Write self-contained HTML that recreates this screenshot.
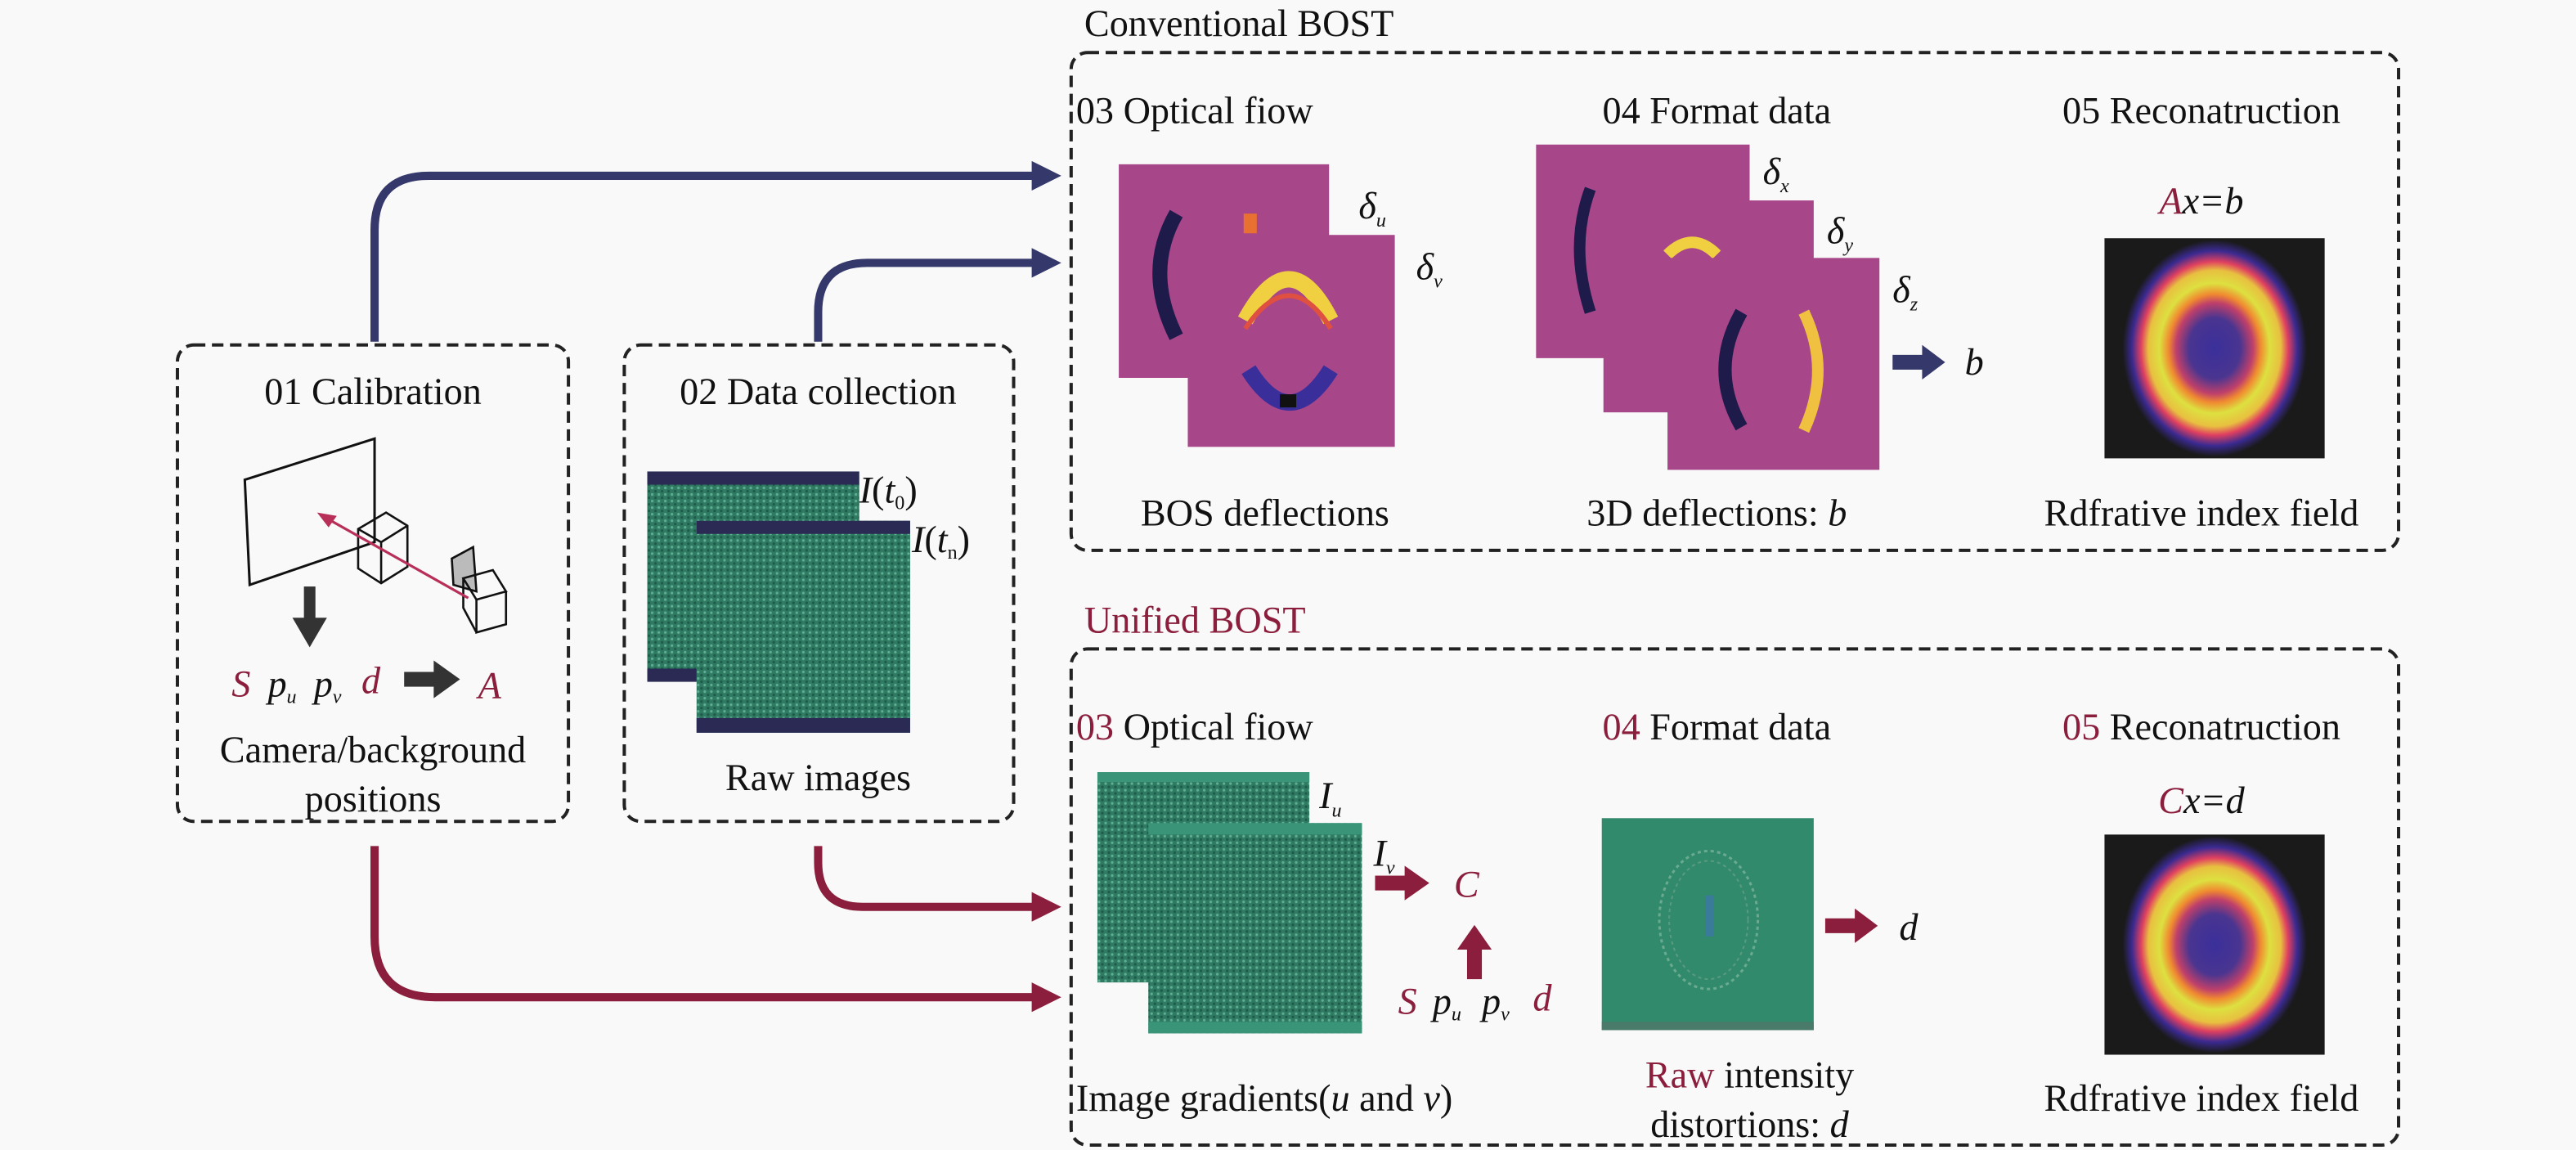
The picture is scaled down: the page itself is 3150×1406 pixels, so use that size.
<!DOCTYPE html>
<html><head><meta charset="utf-8"><style>
html,body{margin:0;padding:0;background:#f9f9f9}
svg{display:block}
svg text{font-family:"Liberation Serif","DejaVu Serif",serif;fill:#111}
.h{font-size:23px}
.i{font-style:italic}
.r{fill:#8b1e3c}
</style></head><body>
<svg width="3150" height="1406" viewBox="0 0 1568 700" preserveAspectRatio="none" xmlns="http://www.w3.org/2000/svg" font-family="Liberation Serif, DejaVu Serif, serif">
<defs>
<pattern id="gp" width="4" height="4" patternUnits="userSpaceOnUse">
<rect width="4" height="4" fill="#2f7a62"/><circle cx="1" cy="1" r="0.8" fill="#5fae92"/><circle cx="3" cy="3" r="0.8" fill="#1f5a48"/>
</pattern>
<radialGradient id="rec" cx="50%" cy="50%" r="50%">
<stop offset="0" stop-color="#3a2f9a"/><stop offset="0.28" stop-color="#4a3590"/>
<stop offset="0.42" stop-color="#c0406a"/><stop offset="0.5" stop-color="#f08a30"/>
<stop offset="0.6" stop-color="#dde040"/><stop offset="0.72" stop-color="#e8c040"/>
<stop offset="0.8" stop-color="#e04060"/><stop offset="0.9" stop-color="#3a2a90"/>
<stop offset="1" stop-color="#1a1a1a"/>
</radialGradient>
</defs>
<rect width="1568" height="700" fill="#f9f9f9"/>

<g fill="none" stroke-width="5">
<path d="M228,208 V140 Q228,107 261,107 H630" stroke="#35386a"/>
<path d="M498,208 V190 Q498,160 528,160 H630" stroke="#35386a"/>
<path d="M228,515 V570 Q228,607 265,607 H630" stroke="#8b1e3c"/>
<path d="M498,515 V525 Q498,552 525,552 H630" stroke="#8b1e3c"/>
</g>
<polygon points="628,98 646,107 628,116" fill="#35386a"/>
<polygon points="628,151 646,160 628,169" fill="#35386a"/>
<polygon points="628,598 646,607 628,616" fill="#8b1e3c"/>
<polygon points="628,543 646,552 628,561" fill="#8b1e3c"/>

<g fill="none" stroke="#222" stroke-width="2" stroke-dasharray="7,4">
<rect x="108" y="210" width="238" height="290" rx="10"/>
<rect x="380" y="210" width="237" height="290" rx="10"/>
<rect x="652" y="32" width="808" height="303" rx="10"/>
<rect x="652" y="395" width="808" height="302" rx="10"/>
</g>

<text x="660" y="22" class="h">Conventional BOST</text>
<text x="660" y="385" class="h r">Unified BOST</text>

<text x="227" y="246" class="h" text-anchor="middle">01 Calibration</text>
<polygon points="149,292 228,267 228,330 152,356" fill="none" stroke="#111" stroke-width="1.5"/>
<g fill="none" stroke="#111" stroke-width="1.3">
<polygon points="218,322 235,312 248,320 248,345 232,355 218,346"/>
<path d="M218,322 L232,330 L248,320 M232,330 V355"/>
<polygon points="275,340 288,333 290,360 276,356" fill="#bbb"/>
<polygon points="282,352 300,347 308,360 290,365" fill="none"/>
<path d="M290,365 V385 L308,380 V360 M282,352 V370 L290,385"/>
</g>
<line x1="285" y1="364" x2="198" y2="315" stroke="#b8305a" stroke-width="1.6"/>
<polygon points="193,312 205,314 200,321" fill="#b8305a"/>
<rect x="185" y="357" width="7" height="20" fill="#333"/>
<polygon points="178,376 199,376 188.5,394" fill="#333"/>
<text x="141" y="424" class="h i r">S</text>
<text x="163" y="424" class="h i">p<tspan font-size="12" dy="4">u</tspan></text>
<text x="191" y="424" class="h i">p<tspan font-size="12" dy="4">v</tspan></text>
<text x="220" y="422" class="h i r">d</text>
<rect x="246" y="409" width="20" height="9" fill="#333"/>
<polygon points="264,402 280,413.5 264,425" fill="#333"/>
<text x="291" y="425" class="h i r">A</text>
<text x="227" y="464" class="h" text-anchor="middle">Camera/background</text>
<text x="227" y="494" class="h" text-anchor="middle">positions</text>

<text x="498" y="246" class="h" text-anchor="middle">02 Data collection</text>
<rect x="394" y="287" width="129" height="128" fill="url(#gp)"/>
<rect x="394" y="287" width="129" height="8" fill="#2a2a55"/>
<rect x="394" y="407" width="30" height="8" fill="#2a2a55"/>
<rect x="424" y="317" width="130" height="129" fill="url(#gp)"/>
<rect x="424" y="317" width="130" height="8" fill="#2a2a55"/>
<rect x="424" y="437" width="130" height="9" fill="#2a2a55"/>
<text x="523" y="306" class="h"><tspan class="i">I</tspan>(<tspan class="i">t</tspan><tspan font-size="12" dy="4">0</tspan><tspan dy="-4">)</tspan></text>
<text x="555" y="336" class="h"><tspan class="i">I</tspan>(<tspan class="i">t</tspan><tspan font-size="12" dy="4">n</tspan><tspan dy="-4">)</tspan></text>
<text x="498" y="481" class="h" text-anchor="middle">Raw images</text>

<text x="655" y="75" class="h">03 Optical fiow</text>
<rect x="681" y="100" width="128" height="130" fill="#a8468a"/>
<path d="M716,130 Q696,165 716,205" stroke="#1e1a4a" stroke-width="9" fill="none"/>
<rect x="757" y="130" width="8" height="12" fill="#e87030"/>
<rect x="723" y="143" width="126" height="129" fill="#a8468a"/>
<path d="M758,195 Q785,145 810,195" stroke="#f0d040" stroke-width="10" fill="none"/>
<path d="M758,200 Q785,160 810,200" stroke="#e05040" stroke-width="3" fill="none"/>
<path d="M760,225 Q785,265 810,225" stroke="#3a2f9a" stroke-width="10" fill="none"/>
<rect x="779" y="240" width="10" height="8" fill="#111"/>
<text x="827" y="133" class="h i">δ<tspan font-size="12" dy="5">u</tspan></text>
<text x="862" y="170" class="h i">δ<tspan font-size="12" dy="5">v</tspan></text>
<text x="770" y="320" class="h" text-anchor="middle">BOS deflections</text>

<text x="1045" y="75" class="h" text-anchor="middle">04 Format data</text>
<rect x="935" y="88" width="130" height="130" fill="#a8468a"/>
<path d="M968,115 Q955,150 968,190" stroke="#1e1a4a" stroke-width="7" fill="none"/>
<rect x="976" y="122" width="128" height="129" fill="#a8468a"/>
<path d="M1015,155 Q1030,140 1045,155" stroke="#f0d040" stroke-width="7" fill="none"/>
<rect x="1015" y="157" width="129" height="129" fill="#a8468a"/>
<path d="M1060,190 Q1040,225 1060,260" stroke="#1e1a4a" stroke-width="8" fill="none"/>
<path d="M1098,190 Q1115,225 1098,262" stroke="#f0c040" stroke-width="7" fill="none"/>
<text x="1073" y="112" class="h i">δ<tspan font-size="12" dy="5">x</tspan></text>
<text x="1112" y="148" class="h i">δ<tspan font-size="12" dy="5">y</tspan></text>
<text x="1152" y="184" class="h i">δ<tspan font-size="12" dy="5">z</tspan></text>
<rect x="1152" y="216" width="20" height="9" fill="#35386a"/>
<polygon points="1170,210 1184,220.5 1170,231" fill="#35386a"/>
<text x="1196" y="228" class="h i">b</text>
<text x="1045" y="320" class="h" text-anchor="middle">3D deflections: <tspan class="i">b</tspan></text>

<text x="1340" y="75" class="h" text-anchor="middle">05 Reconatruction</text>
<text x="1340" y="130" class="h i" text-anchor="middle"><tspan class="r">A</tspan>x=b</text>
<rect x="1281" y="145" width="134" height="134" fill="#1a1a1a"/>
<ellipse cx="1348" cy="212" rx="56" ry="66" fill="url(#rec)"/>
<text x="1340" y="320" class="h" text-anchor="middle">Rdfrative index field</text>

<text x="655" y="450" class="h"><tspan class="r">03</tspan> Optical fiow</text>
<rect x="668" y="470" width="129" height="128" fill="url(#gp)"/>
<rect x="668" y="470" width="129" height="6" fill="#3a9478"/>
<rect x="699" y="501" width="130" height="128" fill="url(#gp)"/>
<rect x="699" y="501" width="130" height="7" fill="#3a9478"/>
<rect x="699" y="622" width="130" height="7" fill="#3a9478"/>
<text x="803" y="492" class="h i">I<tspan font-size="12" dy="5">u</tspan></text>
<text x="836" y="527" class="h i">I<tspan font-size="12" dy="5">v</tspan></text>
<rect x="837" y="533" width="20" height="9" fill="#8b1e3c"/>
<polygon points="855,527 870,537.5 855,548" fill="#8b1e3c"/>
<text x="885" y="546" class="h i r">C</text>
<rect x="893" y="576" width="9" height="20" fill="#8b1e3c"/>
<polygon points="887,578 897.5,563 908,578" fill="#8b1e3c"/>
<text x="851" y="617" class="h i r">S</text>
<text x="872" y="617" class="h i">p<tspan font-size="12" dy="4">u</tspan></text>
<text x="902" y="617" class="h i">p<tspan font-size="12" dy="4">v</tspan></text>
<text x="933" y="615" class="h i r">d</text>
<text x="655" y="676" class="h">Image gradients(<tspan class="i">u</tspan> and <tspan class="i">v</tspan>)</text>

<text x="1045" y="450" class="h" text-anchor="middle"><tspan class="r">04</tspan> Format data</text>
<rect x="975" y="498" width="129" height="129" fill="#328a6c"/>
<rect x="975" y="622" width="129" height="5" fill="#4a7a6a"/>
<ellipse cx="1040" cy="560" rx="30" ry="42" fill="none" stroke="#6aaa90" stroke-width="1.5" stroke-dasharray="2,2"/>
<ellipse cx="1040" cy="560" rx="24" ry="36" fill="none" stroke="#5a9a80" stroke-width="1" stroke-dasharray="2,2"/>
<rect x="1038" y="545" width="5" height="25" fill="#3a7a9a"/>
<rect x="1111" y="559" width="20" height="9" fill="#8b1e3c"/>
<polygon points="1129,553 1143,563.5 1129,574" fill="#8b1e3c"/>
<text x="1156" y="572" class="h i">d</text>
<text x="1065" y="662" class="h" text-anchor="middle"><tspan class="r">Raw</tspan> intensity</text>
<text x="1065" y="692" class="h" text-anchor="middle">distortions: <tspan class="i">d</tspan></text>

<text x="1340" y="450" class="h" text-anchor="middle"><tspan class="r">05</tspan> Reconatruction</text>
<text x="1340" y="495" class="h i" text-anchor="middle"><tspan class="r">C</tspan>x=d</text>
<rect x="1281" y="508" width="134" height="134" fill="#1a1a1a"/>
<ellipse cx="1348" cy="575" rx="56" ry="66" fill="url(#rec)"/>
<text x="1340" y="676" class="h" text-anchor="middle">Rdfrative index field</text>
</svg>
</body></html>
